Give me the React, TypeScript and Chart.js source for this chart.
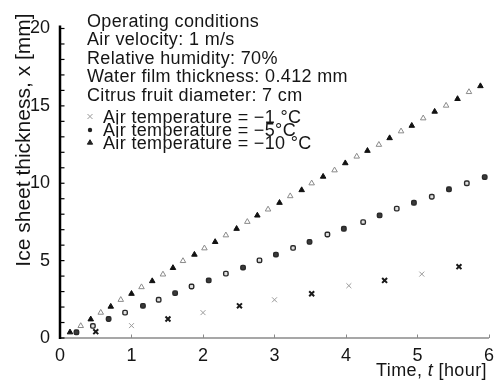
import { useEffect, useRef } from "react";
import { Chart, registerables } from "chart.js";

Chart.register(...registerables);

// Elapsed time [hour] and ice sheet thickness [mm] for each air temperature
const timeMinus1 = [0.5, 1.0, 1.51, 2.0, 2.51, 3.0, 3.52, 4.04, 4.54, 5.06, 5.58];
const iceMinus1 = [0.41, 0.8, 1.23, 1.64, 2.08, 2.47, 2.86, 3.38, 3.72, 4.13, 4.61];

const timeMinus5 = [
  0.23, 0.46, 0.68, 0.91, 1.16, 1.38, 1.61, 1.84, 2.08, 2.32, 2.56, 2.79, 3.02,
  3.26, 3.49, 3.74, 3.97, 4.24, 4.47, 4.71, 4.95, 5.2, 5.44, 5.69, 5.94,
];
const iceMinus5 = [
  0.37, 0.78, 1.23, 1.64, 2.08, 2.47, 2.9, 3.33, 3.72, 4.16, 4.55, 5.02, 5.39,
  5.82, 6.21, 6.69, 7.06, 7.49, 7.92, 8.36, 8.74, 9.13, 9.61, 10.0, 10.4,
];

const timeMinus10 = [
  0.14, 0.29, 0.43, 0.57, 0.71, 0.85, 1.0, 1.14, 1.29, 1.44, 1.58, 1.72, 1.88,
  2.02, 2.17, 2.32, 2.47, 2.62, 2.76, 2.91, 3.07, 3.22, 3.38, 3.52, 3.68, 3.84,
  3.99, 4.15, 4.3, 4.46, 4.61, 4.77, 4.92, 5.08, 5.24, 5.4, 5.56, 5.72, 5.88,
];
const iceMinus10 = [
  0.37, 0.78, 1.21, 1.64, 2.03, 2.47, 2.86, 3.29, 3.68, 4.11, 4.53, 4.98, 5.39,
  5.8, 6.21, 6.64, 7.06, 7.51, 7.92, 8.31, 8.74, 9.17, 9.56, 10.0, 10.43, 10.84,
  11.3, 11.73, 12.1, 12.49, 12.92, 13.36, 13.72, 14.2, 14.63, 15.02, 15.45, 15.9,
  16.28,
];

const xTickValues = [0, 1, 2, 3, 4, 5, 6];
const yTickValues = [0, 5, 10, 15, 20];

const conditionLines = [
  "Operating conditions",
  "Air velocity: 1 m/s",
  "Relative humidity: 70%",
  "Water film thickness: 0.412 mm",
  "Citrus fruit diameter: 7 cm",
];
const seriesLabels = [
  "Air temperature = \u22121 \u00B0C",
  "Air temperature = \u22125\u00B0C",
  "Air temperature = \u221210 \u00B0C",
];
const yTitle = "Ice sheet thickness, x [mm]";
const xTitleParts = ["Time, ", "t", " [hour]"];

const FONT = '"Liberation Sans", Arial, Helvetica, sans-serif';
const INK = "#151515";

function pairs(xs: number[], ys: number[]) {
  return xs.map((x, i) => ({ x, y: ys[i] }));
}

function drawCross(ctx: CanvasRenderingContext2D, x: number, y: number, r: number) {
  ctx.beginPath();
  ctx.moveTo(x - r, y - r);
  ctx.lineTo(x + r, y + r);
  ctx.moveTo(x + r, y - r);
  ctx.lineTo(x - r, y + r);
  ctx.stroke();
}

function drawTriangle(ctx: CanvasRenderingContext2D, x: number, y: number, r: number) {
  ctx.beginPath();
  ctx.moveTo(x, y - r);
  ctx.lineTo(x + r * 0.95, y + r * 0.6);
  ctx.lineTo(x - r * 0.95, y + r * 0.6);
  ctx.closePath();
  ctx.fill();
  ctx.stroke();
}

const decorPlugin = {
  id: "iceDecor",
  beforeDatasetsDraw(chart: any) {
    const { ctx, scales } = chart;
    const xs = scales.x;
    const ys = scales.y;
    const left = xs.getPixelForValue(0);
    const right = xs.getPixelForValue(6);
    const bottom = ys.getPixelForValue(0);
    const top = ys.getPixelForValue(20);
    ctx.save();
    // x axis: thin grey line with short inward ticks
    ctx.strokeStyle = "#8a8a8a";
    ctx.lineWidth = 1.5;
    ctx.beginPath();
    ctx.moveTo(left, bottom);
    ctx.lineTo(right, bottom);
    ctx.stroke();
    ctx.lineWidth = 1;
    for (const v of xTickValues) {
      const px = Math.round(xs.getPixelForValue(v)) + 0.5;
      ctx.beginPath();
      ctx.moveTo(px, bottom);
      ctx.lineTo(px, bottom - 3.5);
      ctx.stroke();
    }
    // y axis: heavy black line with a tick every 1 mm
    ctx.strokeStyle = "#000";
    ctx.lineWidth = 2.5;
    ctx.beginPath();
    ctx.moveTo(left, bottom + 1);
    ctx.lineTo(left, top - 3);
    ctx.stroke();
    ctx.lineWidth = 1.2;
    for (let v = 0; v <= 20; v += 1) {
      const py = ys.getPixelForValue(v);
      ctx.beginPath();
      ctx.moveTo(left, py);
      ctx.lineTo(left + 4.5, py);
      ctx.stroke();
    }
    ctx.restore();
  },
  afterDraw(chart: any) {
    const { ctx } = chart;
    ctx.save();
    ctx.fillStyle = INK;
    ctx.textAlign = "left";
    ctx.textBaseline = "alphabetic";
    (ctx as any).letterSpacing = "0.35px";

    // operating conditions block
    ctx.font = `18px ${FONT}`;
    conditionLines.forEach((line, i) => {
      ctx.fillText(line, 87, 27 + i * 18.4);
    });

    // series key
    const keyBase = [122.5, 135.5, 148.5];
    seriesLabels.forEach((label, i) => {
      ctx.fillStyle = INK;
      ctx.fillText(label, 103, keyBase[i]);
    });
    const mx = 90;
    ctx.strokeStyle = "#999";
    ctx.lineWidth = 1;
    drawCross(ctx, mx, keyBase[0] - 6, 2.5);
    ctx.fillStyle = "#222";
    ctx.strokeStyle = "#222";
    ctx.beginPath();
    ctx.arc(mx, keyBase[1] - 5.5, 2.2, 0, Math.PI * 2);
    ctx.fill();
    ctx.fillStyle = "#222";
    drawTriangle(ctx, mx, keyBase[2] - 6, 2.8);

    // y axis title
    ctx.save();
    (ctx as any).letterSpacing = "0px";
    ctx.translate(30, 140);
    ctx.rotate(-Math.PI / 2);
    ctx.textAlign = "center";
    ctx.fillStyle = INK;
    ctx.font = `21px ${FONT}`;
    ctx.fillText(yTitle, 0, 0);
    ctx.restore();

    // x axis title with italic symbol
    let tx = 376;
    const ty = 376;
    ctx.fillStyle = INK;
    (ctx as any).letterSpacing = "0.4px";
    xTitleParts.forEach((part, i) => {
      ctx.font = i === 1 ? `italic 18px ${FONT}` : `18px ${FONT}`;
      ctx.fillText(part, tx, ty);
      tx += ctx.measureText(part).width;
    });
    ctx.restore();
  },
};

export default function App() {
  const canvasRef = useRef<HTMLCanvasElement | null>(null);

  useEffect(() => {
    const canvas = canvasRef.current;
    if (!canvas) return;
    const alternate = (a: any, b: any) => (c: any) =>
      c.dataIndex % 2 === 0 ? a : b;

    const chart = new Chart(canvas, {
      type: "scatter",
      data: {
        datasets: [
          {
            label: seriesLabels[0],
            data: pairs(timeMinus1, iceMinus1),
            pointStyle: "crossRot",
            radius: 3.5,
            borderColor: alternate("#1a1a1a", "#9a9a9a"),
            borderWidth: alternate(2, 1),
            backgroundColor: "transparent",
          },
          {
            label: seriesLabels[1],
            data: pairs(timeMinus5, iceMinus5),
            pointStyle: "rectRounded",
            radius: 2.6,
            borderColor: "#2a2a2a",
            borderWidth: 1.4,
            backgroundColor: alternate("#3a3a3a", "#e0e0e0"),
          },
          {
            label: seriesLabels[2],
            data: pairs(timeMinus10, iceMinus10),
            pointStyle: "triangle",
            radius: 3.2,
            borderColor: alternate("#111", "#8a8a8a"),
            borderWidth: 1,
            backgroundColor: alternate("#111", "#ffffff"),
          },
        ],
      },
      options: {
        responsive: false,
        animation: false,
        devicePixelRatio: 1,
        layout: {
          autoPadding: false,
          padding: { left: 0, top: 28.5, right: 3, bottom: 0 },
        },
        plugins: {
          legend: { display: false },
          tooltip: { enabled: false },
        },
        elements: { point: { hoverRadius: 3 } },
        scales: {
          x: {
            type: "linear",
            min: 0,
            max: 6,
            grid: { display: false, drawTicks: false },
            border: { display: false },
            afterFit: (scale: any) => {
              scale.height = 43;
            },
            afterBuildTicks: (scale: any) => {
              scale.ticks = xTickValues.map((v) => ({ value: v }));
            },
            ticks: {
              padding: 7,
              color: INK,
              font: { family: FONT, size: 18 },
              maxRotation: 0,
              callback: (v: any) => String(v),
            },
          },
          y: {
            type: "linear",
            min: 0,
            max: 20,
            grid: { display: false, drawTicks: false },
            border: { display: false },
            afterFit: (scale: any) => {
              scale.width = 60;
            },
            afterBuildTicks: (scale: any) => {
              scale.ticks = yTickValues.map((v) => ({ value: v }));
            },
            ticks: {
              padding: 10,
              color: INK,
              font: { family: FONT, size: 18 },
              callback: (v: any) => String(v),
            },
          },
        },
      },
      plugins: [decorPlugin],
    });

    return () => chart.destroy();
  }, []);

  return (
    <div
      style={{
        position: "absolute",
        left: 0,
        top: 0,
        width: 501,
        height: 381,
        background: "#fff",
      }}
    >
      <canvas ref={canvasRef} width={501} height={381} />
    </div>
  );
}
